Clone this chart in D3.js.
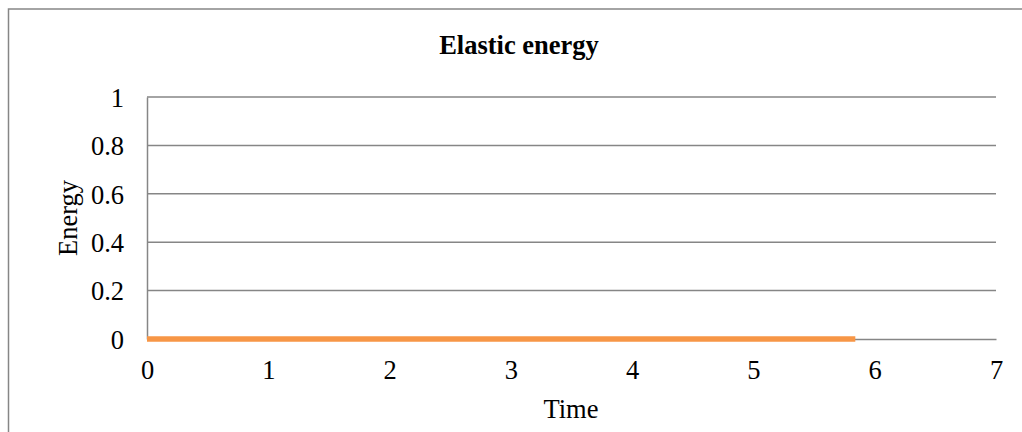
<!DOCTYPE html>
<html><head><meta charset="utf-8">
<script src="https://cdn.jsdelivr.net/npm/d3@7"></script>
<style>body{margin:0;background:#fff}svg{display:block}text{font-family:"Liberation Serif","Times New Roman",serif;fill:#000}</style>
</head><body>
<svg id="c" width="1022" height="432"></svg>
<script>
const title = "Elastic energy";
const xLabel = "Time";
const yLabel = "Energy";
const xTicks = [0,1,2,3,4,5,6,7];
const yTicks = [0,0.2,0.4,0.6,0.8,1];
const timeValues = [0, 5.84];
const energyValues = [0, 0];

const svg = d3.select("#c");
const m = {l:147, r:996, t:97, b:339};
const x = d3.scaleLinear().domain([0,7]).range([m.l, m.r]);
const y = d3.scaleLinear().domain([0,1]).range([m.b, m.t]);
const fs = 26.5;

svg.append("rect").attr("x",8.5).attr("y",9).attr("width",1040).attr("height",440)
  .attr("fill","none").attr("stroke","#868686").attr("stroke-width",1.5);

svg.append("text").attr("x",519).attr("y",54).attr("text-anchor","middle")
  .attr("font-weight","bold").attr("font-size",fs).text(title);

// gridlines
svg.append("g").selectAll("line").data(yTicks.filter(d=>d>0)).join("line")
  .attr("x1",m.l).attr("x2",m.r).attr("y1",d=>y(d)).attr("y2",d=>y(d))
  .attr("stroke","#868686").attr("stroke-width",1.5);

const yAxis = svg.append("g").attr("transform",`translate(${m.l},0)`)
  .call(d3.axisLeft(y).tickValues(yTicks).tickSize(0).tickPadding(23).tickFormat(d=>String(+d.toFixed(1))));
yAxis.select(".domain").attr("stroke","#868686").attr("stroke-width",1.5);
yAxis.selectAll("text").attr("font-size",fs).attr("font-family","Liberation Serif").attr("fill","#000").attr("dy","0.35em");

const xAxis = svg.append("g").attr("transform",`translate(0,${m.b})`)
  .call(d3.axisBottom(x).tickValues(xTicks).tickSize(0).tickPadding(21).tickFormat(d3.format("d")));
xAxis.select(".domain").attr("stroke","#868686").attr("stroke-width",1.5);
xAxis.selectAll("text").attr("font-size",fs).attr("font-family","Liberation Serif").attr("fill","#000");

svg.append("text").attr("x",571).attr("y",418).attr("text-anchor","middle").attr("font-size",fs).text(xLabel);
svg.append("text").attr("transform","translate(77,218) rotate(-90)").attr("text-anchor","middle").attr("font-size",fs).text(yLabel);

const line = d3.line().x((d,i)=>x(timeValues[i])).y(d=>y(d));
svg.append("path").datum(energyValues).attr("d",line)
  .attr("fill","none").attr("stroke","#F79646").attr("stroke-width",5.5);
</script>
</body></html>
